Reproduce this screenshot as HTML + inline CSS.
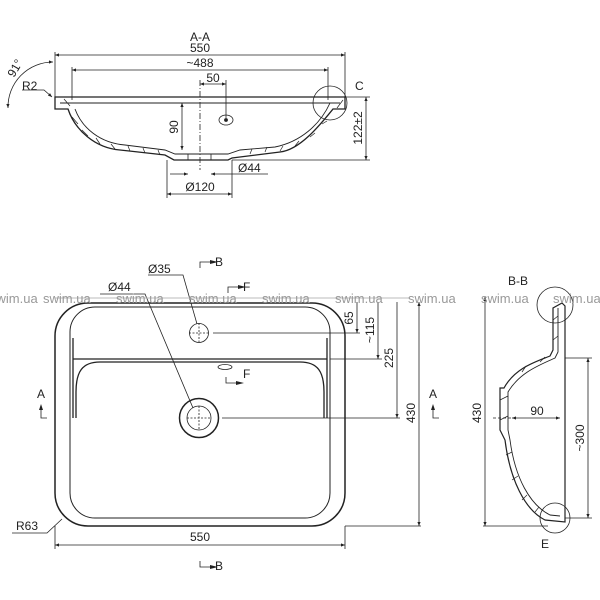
<!DOCTYPE html>
<html><head><meta charset="utf-8"><style>
html,body{margin:0;padding:0;background:#fff;width:600px;height:600px;overflow:hidden}
svg{display:block}
text{font-family:"Liberation Sans",sans-serif;fill:#222}
</style></head><body>
<svg width="600" height="600" viewBox="0 0 600 600" xmlns="http://www.w3.org/2000/svg">
<defs>
<marker id="a" viewBox="0 0 10 10" refX="10" refY="5" markerWidth="7" markerHeight="5" orient="auto-start-reverse"><path d="M0,1 L10,5 L0,9z" fill="#222"/></marker>
</defs>
<g stroke="#222" fill="none" stroke-width="0.8">
<line x1="55" y1="55" x2="345" y2="55" marker-start="url(#a)" marker-end="url(#a)"/>
<line x1="55" y1="52" x2="55" y2="108"/><line x1="345" y1="52" x2="345" y2="103"/>
<line x1="72" y1="70" x2="328" y2="70" marker-start="url(#a)" marker-end="url(#a)"/>
<line x1="72" y1="67" x2="72" y2="100"/><line x1="328" y1="67" x2="328" y2="100"/>
<line x1="200" y1="84" x2="226" y2="84" marker-start="url(#a)" marker-end="url(#a)"/>
<line x1="200" y1="80" x2="200" y2="170" stroke-dasharray="6,2,1,2"/>
<line x1="226" y1="80" x2="226" y2="118"/>
<path d="M55,97 H345 V109 H333 C320,125 300,150 280,152 L232,158 L228,160 H174 L165,155 L120,150 C95,148 75,130 68,109 H55 Z" stroke-width="1.3"/>
<path d="M60,103 H340 M75,109 C82,128 100,143 125,145 L165,150 L175,154 H228 L240,150 L275,147 C300,142 320,125 330,103" stroke-width="0.9"/>
<path d="M188,154 V160 M211,154 V160" />
<path d="M70,106 L64,99 M78,124 L72,117 M88,136 L82,130 M100,144 L96,138 M115,149 L111,144 M130,151 L128,146 M145,153 L143,148 M160,155 L158,150 M250,154 L252,149 M265,152 L267,147 M280,151 L283,146 M295,146 L299,141 M310,137 L315,133 M322,124 L327,121 M337,108 L343,100" stroke-width="0.7"/>
<ellipse cx="226" cy="120" rx="7" ry="5"/><circle cx="226" cy="120" r="1.5" fill="#222"/>
<line x1="182" y1="103" x2="182" y2="150" marker-start="url(#a)" marker-end="url(#a)"/>
<line x1="345" y1="97" x2="370" y2="97"/><line x1="232" y1="160" x2="370" y2="160"/>
<line x1="366" y1="97" x2="366" y2="160" marker-start="url(#a)" marker-end="url(#a)"/>
<line x1="170" y1="174" x2="188" y2="174" marker-end="url(#a)"/><line x1="230" y1="174" x2="211" y2="174" marker-end="url(#a)"/>
<line x1="230" y1="174" x2="268" y2="174"/>
<line x1="167" y1="160" x2="167" y2="198"/><line x1="232" y1="160" x2="232" y2="198"/>
<line x1="167" y1="194" x2="232" y2="194" marker-start="url(#a)" marker-end="url(#a)"/>
<circle cx="330" cy="103" r="17"/>
<path d="M53,62 A45,45 0 0 0 8,108" marker-start="url(#a)" marker-end="url(#a)"/>
<path d="M22,90 H44 L52,97" marker-end="url(#a)"/>
<rect x="55" y="303" width="290" height="223" rx="33" stroke-width="1.5"/>
<rect x="70" y="307" width="260" height="211" rx="25" stroke-width="1"/>
<path d="M76,418 V392 C76,372 82,362 100,362 H300 C318,362 324,372 324,392 V418" stroke-width="1.3"/>
<path d="M73,359 H327 M73,338 V418 M327,338 V418" stroke-width="1.3"/>
<circle cx="199" cy="333" r="9.5"/><path d="M189,333 H209 M199,323 V343" stroke-dasharray="2,1.5"/>
<circle cx="199" cy="418" r="19.5" stroke-width="1.5"/><circle cx="199" cy="418" r="12"/>
<path d="M187,418 H211 M199,406 V430" stroke-dasharray="2,1.5"/>
<path d="M148,275 H183 L197,324"/><path d="M100,294 H145 L193,408"/>
<ellipse cx="225" cy="367" rx="7" ry="2.5"/>
<line x1="213" y1="333" x2="360" y2="333"/><line x1="330" y1="359" x2="382" y2="359"/><line x1="222" y1="418" x2="400" y2="418"/>
<line x1="345" y1="526" x2="421" y2="526"/>
<line x1="357" y1="302" x2="357" y2="333" marker-end="url(#a)"/>
<line x1="378" y1="302" x2="378" y2="359" marker-end="url(#a)"/>
<line x1="397" y1="302" x2="397" y2="418" marker-end="url(#a)"/>
<line x1="419" y1="302" x2="419" y2="526" marker-start="url(#a)" marker-end="url(#a)"/>
<line x1="55" y1="526" x2="55" y2="549"/><line x1="345" y1="526" x2="345" y2="549"/>
<line x1="55" y1="545" x2="345" y2="545" marker-start="url(#a)" marker-end="url(#a)"/>
<path d="M12,533 H47 L62,519"/>
<path d="M200,268 V262 H210"/><path d="M228,293 V287 H238"/><path d="M226,377 V383 H236"/><path d="M200,561 V567 H210"/>
<path d="M41,410 V418 H47"/><path d="M433,410 V418 H439"/>
<line x1="485" y1="297" x2="485" y2="526" marker-start="url(#a)" marker-end="url(#a)"/>
<line x1="483" y1="526" x2="548" y2="526"/>
<path d="M553,330 V350 L550,356 C535,362 515,368 504,388 H500 V430 L505,440 C510,480 525,510 545,520 L565,522 V306 L562,303 L553,308 Z" stroke-width="1.2"/>
<path d="M558,308 V352 L555,358 C540,365 520,372 508,392 V430 L510,440 C515,478 530,505 550,515 L560,516" stroke-width="0.9"/>
<path d="M553,320 L558,316 M553,340 L558,336 M540,362 L545,357 M522,372 L526,366 M500,400 L508,396 M500,420 L508,416 M506,455 L512,452 M512,480 L518,476 M522,500 L527,495 M535,512 L539,507" stroke-width="0.7"/>
<line x1="565" y1="358" x2="592" y2="358"/><line x1="565" y1="518" x2="592" y2="518"/>
<line x1="588" y1="358" x2="588" y2="518" marker-start="url(#a)" marker-end="url(#a)"/>
<line x1="512" y1="418" x2="560" y2="418" marker-start="url(#a)" marker-end="url(#a)"/>
<line x1="493" y1="418" x2="512" y2="418" stroke-dasharray="3,2"/>
<circle cx="555" cy="305" r="18"/><circle cx="555" cy="518" r="15"/>
</g>
<g fill="#222"><path d="M210,260 L218,262 L210,264z M238,285 L246,287 L238,289z M236,381 L244,383 L236,385z M210,565 L218,567 L210,569z M39,410 L41,404 L43,410z M431,410 L433,404 L435,410z"/></g>
<line x1="55" y1="298" x2="410" y2="298" stroke="#bbb" stroke-width="1"/>
<g font-size="13">
<text x="-10" y="303" style="fill:#999">swim.ua</text><text x="43" y="303" style="fill:#999">swim.ua</text><text x="116" y="303" style="fill:#999">swim.ua</text><text x="189" y="303" style="fill:#999">swim.ua</text><text x="262" y="303" style="fill:#999">swim.ua</text><text x="335" y="303" style="fill:#999">swim.ua</text><text x="408" y="303" style="fill:#999">swim.ua</text><text x="481" y="303" style="fill:#999">swim.ua</text><text x="553" y="303" style="fill:#999">swim.ua</text>
</g>
<g font-size="12">
<text x="200" y="41" text-anchor="middle">A-A</text>
<text x="200" y="52" text-anchor="middle">550</text>
<text x="200" y="67" text-anchor="middle">~488</text>
<text x="213" y="82" text-anchor="middle">50</text>
<text x="22" y="90">R2</text>
<text x="355" y="90">C</text>
<text transform="translate(14,78) rotate(-60)">91°</text>
<text transform="translate(178,127) rotate(-90)" text-anchor="middle">90</text>
<text transform="translate(362,128) rotate(-90)" text-anchor="middle">122±2</text>
<text x="238" y="172">Ø44</text>
<text x="200" y="191" text-anchor="middle">Ø120</text>
<text x="148" y="273">Ø35</text>
<text x="108" y="291">Ø44</text>
<text x="215" y="266">B</text><text x="243" y="291">F</text><text x="243" y="378">F</text><text x="215" y="570">B</text>
<text x="37" y="398">A</text><text x="429" y="398">A</text>
<text transform="translate(353,318) rotate(-90)" text-anchor="middle">65</text>
<text transform="translate(374,330) rotate(-90)" text-anchor="middle">~115</text>
<text transform="translate(393,358) rotate(-90)" text-anchor="middle">225</text>
<text transform="translate(415,413) rotate(-90)" text-anchor="middle">430</text>
<text x="200" y="541" text-anchor="middle">550</text>
<text x="16" y="530">R63</text>
<text x="518" y="285" text-anchor="middle">B-B</text>
<text transform="translate(481,413) rotate(-90)" text-anchor="middle">430</text>
<text x="537" y="415" text-anchor="middle">90</text>
<text transform="translate(584,438) rotate(-90)" text-anchor="middle">~300</text>
<text x="545" y="548" text-anchor="middle">E</text>
</g>
</svg>
</body></html>
